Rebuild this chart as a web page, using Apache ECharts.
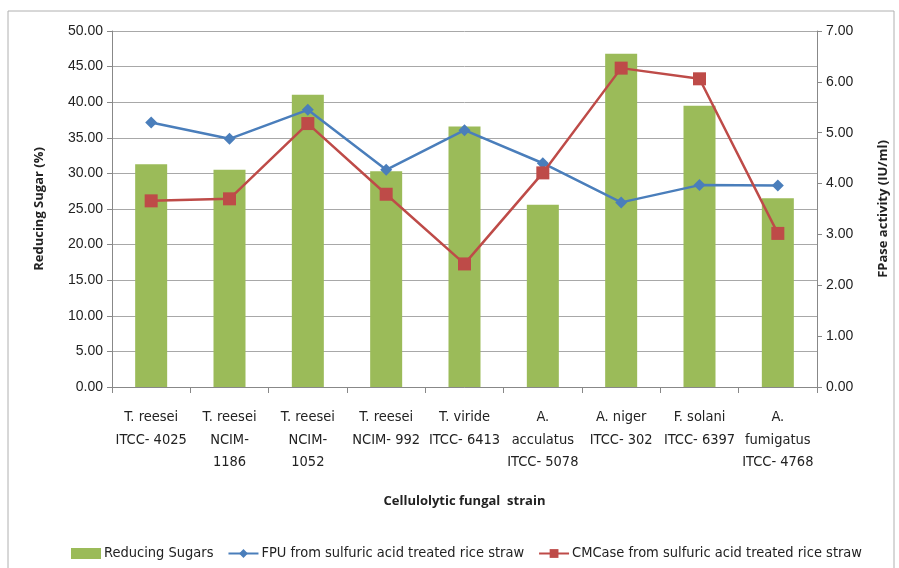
<!DOCTYPE html>
<html><head><meta charset="utf-8">
<script src="https://cdn.jsdelivr.net/npm/echarts@6/dist/echarts.min.js"></script>
<style>html,body{margin:0;padding:0;background:#fff}#c{width:899px;height:568px}</style>
</head><body><div id="c"></div>
<script>
const categories = ["T. reesei\nITCC- 4025","T. reesei\nNCIM-\n1186","T. reesei\nNCIM-\n1052","T. reesei\nNCIM- 992","T. viride\nITCC- 6413","A.\nacculatus\nITCC- 5078","A. niger\nITCC- 302","F. solani\nITCC- 6397","A.\nfumigatus\nITCC- 4768"];
const reducingSugars = [31.3, 30.5, 41.05, 30.3, 36.6, 25.6, 46.8, 39.5, 26.5];
const fpu = [5.20, 4.88, 5.45, 4.27, 5.05, 4.40, 3.63, 3.97, 3.96];
const cmcase = [3.66, 3.70, 5.18, 3.79, 2.42, 4.21, 6.27, 6.06, 3.02];
const leftTicks = {min:0, max:50, interval:5};
const rightTicks = {min:0, max:7, interval:1};

const narrow = '"DejaVu Sans Condensed", "Liberation Sans Narrow", sans-serif';
const chart = echarts.init(document.getElementById('c'));
chart.setOption({
  animation:false,
  graphic:[{type:'rect', shape:{x:8,y:11,width:886,height:570}, style:{fill:'none', stroke:'#b0b0b0', lineWidth:1}}],
  grid:{left:112, right:82, top:31, bottom:181},
  legend:{top:541, left:66, itemGap:14, itemWidth:30, itemHeight:11,
    textStyle:{fontFamily:narrow, fontSize:14.5, color:'#222', padding:[0,0,0,-2]},
    data:[{name:'Reducing Sugars', icon:'rect'}, 'FPU from sulfuric acid treated rice straw', 'CMCase from sulfuric acid treated rice straw']},
  xAxis:{type:'category', data:categories,
    name:'Cellulolytic fungal  strain', nameLocation:'middle', nameGap:108,
    nameTextStyle:{fontFamily:'"Open Sans", sans-serif', fontWeight:'bold', fontSize:13, color:'#222'},
    axisLine:{lineStyle:{color:'#888'}}, axisTick:{show:true, length:6, lineStyle:{color:'#888'}},
    axisLabel:{interval:0, fontFamily:narrow, fontSize:14.5, lineHeight:22.5, color:'#222', margin:19}},
  yAxis:[
    {type:'value', min:leftTicks.min, max:leftTicks.max, interval:leftTicks.interval,
     name:'Reducing Sugar (%)', nameLocation:'middle', nameGap:66, nameRotate:90,
     nameTextStyle:{fontFamily:'"Open Sans", sans-serif', fontWeight:'bold', fontSize:13, color:'#222'},
     axisLine:{show:true, lineStyle:{color:'#888'}}, axisTick:{show:true, length:5, lineStyle:{color:'#888'}},
     splitLine:{lineStyle:{color:'#a8a8a8'}},
     axisLabel:{formatter:v=>v.toFixed(2), fontFamily:'"Liberation Sans", sans-serif', fontSize:14, color:'#222', margin:9}},
    {type:'value', min:rightTicks.min, max:rightTicks.max, interval:rightTicks.interval,
     name:'FPase activity (IU/ml)', nameLocation:'middle', nameGap:60, nameRotate:90,
     nameTextStyle:{fontFamily:'"Open Sans", sans-serif', fontWeight:'bold', fontSize:13, color:'#222'},
     axisLine:{show:true, lineStyle:{color:'#888'}}, axisTick:{show:true, length:5, lineStyle:{color:'#888'}},
     splitLine:{show:false},
     axisLabel:{formatter:v=>v.toFixed(2), fontFamily:'"Liberation Sans", sans-serif', fontSize:14, color:'#222', margin:9}}
  ],
  series:[
    {name:'Reducing Sugars', type:'bar', data:reducingSugars, barWidth:32, itemStyle:{color:'#9bbb59'}, yAxisIndex:0},
    {name:'FPU from sulfuric acid treated rice straw', type:'line', data:fpu, yAxisIndex:1,
     symbol:'diamond', symbolSize:12, lineStyle:{color:'#4a7ebb', width:2.5}, itemStyle:{color:'#4a7ebb'}},
    {name:'CMCase from sulfuric acid treated rice straw', type:'line', data:cmcase, yAxisIndex:1,
     symbol:'rect', symbolSize:13, lineStyle:{color:'#be4b48', width:2.5}, itemStyle:{color:'#be4b48'}}
  ]
});
</script></body></html>
